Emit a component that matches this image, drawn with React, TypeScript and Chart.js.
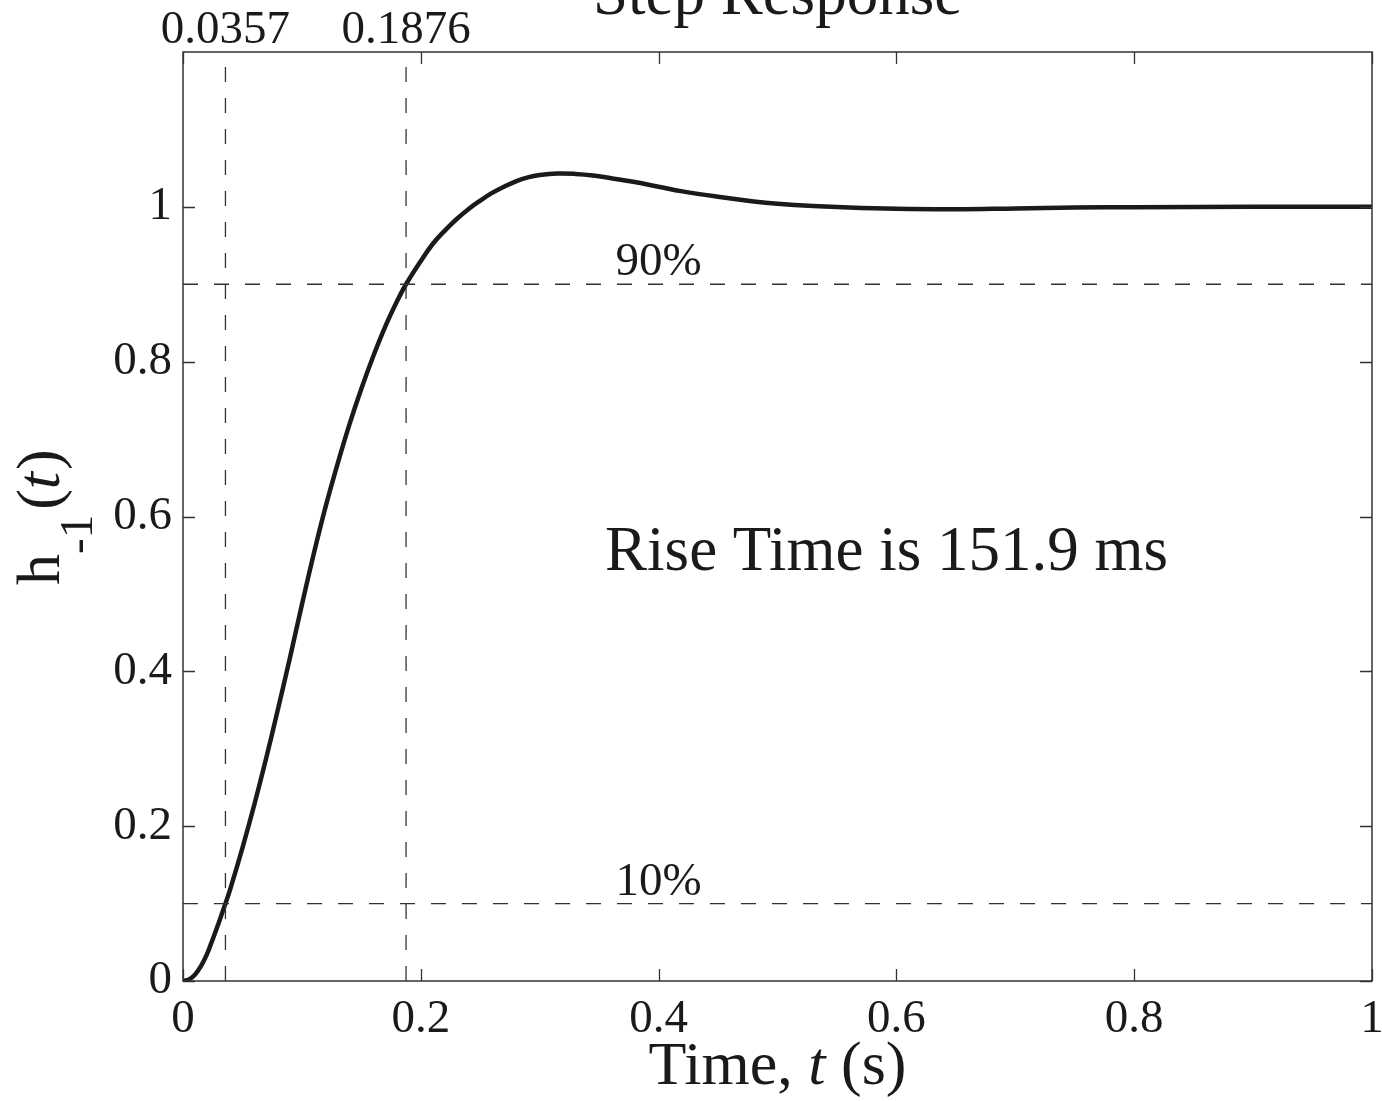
import React, { useEffect, useRef } from "react";
import { Chart, registerables } from "chart.js";

Chart.register(...registerables);

// ---- Data ----
const timeS = [
  0, 0.005, 0.01, 0.015, 0.02, 0.025, 0.03, 0.0357, 0.04, 0.05, 0.06, 0.07,
  0.08, 0.09, 0.1, 0.11, 0.12, 0.13, 0.14, 0.15, 0.16, 0.17, 0.18, 0.1876,
  0.2, 0.21, 0.22, 0.23, 0.24, 0.25, 0.26, 0.27, 0.28, 0.29, 0.3, 0.315,
  0.33, 0.345, 0.36, 0.38, 0.4, 0.42, 0.45, 0.48, 0.5, 0.53, 0.56, 0.6,
  0.65, 0.7, 0.75, 0.8, 0.9, 1.0,
];
const response = [
  0, 0.002, 0.008, 0.019, 0.034, 0.054, 0.075, 0.1, 0.12, 0.172, 0.228, 0.288,
  0.352, 0.418, 0.486, 0.552, 0.613, 0.668, 0.719, 0.765, 0.807, 0.845, 0.878,
  0.9, 0.93, 0.952, 0.969, 0.984, 0.997, 1.008, 1.018, 1.026, 1.033, 1.038,
  1.041, 1.043, 1.0425, 1.0405, 1.037, 1.032, 1.026, 1.02, 1.013, 1.007,
  1.004, 1.001, 0.999, 0.9975, 0.997, 0.998, 0.999, 0.9995, 1.0, 1.0,
];
const riseMarks = [0.0357, 0.1876];
const riseMarkLabels = ["0.0357", "0.1876"];
const levelValues = [0.1, 0.9];
const levelLabels = ["10%", "90%"];
const levelLabelTime = 0.4;
const xTicks = [0, 0.2, 0.4, 0.6, 0.8, 1];
const yTicks = [0, 0.2, 0.4, 0.6, 0.8, 1];
const xRange = [0, 1];
const yRange = [0, 1.2];
const titleText = "Step Response";
const annotationText = "Rise Time is 151.9 ms";
const annotationAt = { t: 0.355, v: 0.531 };

const FONT = "'Liberation Serif', 'Times New Roman', serif";
const INK = "#1a1a1a";
const LINE = "#333333";

const fmt = (v: number) => String(Number(v.toFixed(2)));

const decorPlugin = {
  id: "decor",
  afterDatasetsDraw(chart: any) {
    const { ctx, chartArea: a, scales } = chart;
    const x = scales.x;
    const y = scales.y;
    ctx.save();
    // box
    ctx.strokeStyle = LINE;
    ctx.lineWidth = 1.5;
    ctx.setLineDash([]);
    ctx.strokeRect(a.left, a.top, a.right - a.left, a.bottom - a.top);
    // inward ticks on all four sides
    const tl = 12;
    ctx.beginPath();
    for (const t of xTicks) {
      const px = Math.round(x.getPixelForValue(t)) + 0.5;
      ctx.moveTo(px, a.bottom);
      ctx.lineTo(px, a.bottom - tl);
      ctx.moveTo(px, a.top);
      ctx.lineTo(px, a.top + tl);
    }
    for (const v of yTicks) {
      const py = Math.round(y.getPixelForValue(v)) + 0.5;
      ctx.moveTo(a.left, py);
      ctx.lineTo(a.left + tl, py);
      ctx.moveTo(a.right, py);
      ctx.lineTo(a.right - tl, py);
    }
    ctx.lineWidth = 1.3;
    ctx.stroke();

    ctx.fillStyle = INK;
    ctx.textBaseline = "alphabetic";
    // Rise markers labels above the plot
    ctx.font = `47px ${FONT}`;
    ctx.textAlign = "center";
    riseMarks.forEach((t, i) => {
      ctx.fillText(riseMarkLabels[i], x.getPixelForValue(t), a.top - 9);
    });
    // level labels
    levelValues.forEach((v, i) => {
      ctx.fillText(levelLabels[i], x.getPixelForValue(levelLabelTime), y.getPixelForValue(v) - 9);
    });
    // annotation
    ctx.font = `63px ${FONT}`;
    ctx.textAlign = "left";
    ctx.fillText(annotationText, x.getPixelForValue(annotationAt.t), y.getPixelForValue(annotationAt.v));
    // title
    ctx.textAlign = "center";
    ctx.fillText(titleText, (a.left + a.right) / 2, 14);

    // x axis title: "Time, t (s)" with italic t
    const xt1 = "Time, ";
    const xt2 = "t";
    const xt3 = " (s)";
    const xs = 62;
    ctx.font = `${xs}px ${FONT}`;
    const w1 = ctx.measureText(xt1).width;
    const w3 = ctx.measureText(xt3).width;
    ctx.font = `italic ${xs}px ${FONT}`;
    const w2 = ctx.measureText(xt2).width;
    const total = w1 + w2 + w3;
    let sx = (a.left + a.right) / 2 - total / 2;
    const by = 1084;
    ctx.textAlign = "left";
    ctx.font = `${xs}px ${FONT}`;
    ctx.fillText(xt1, sx, by);
    sx += w1;
    ctx.font = `italic ${xs}px ${FONT}`;
    ctx.fillText(xt2, sx, by);
    sx += w2;
    ctx.font = `${xs}px ${FONT}`;
    ctx.fillText(xt3, sx, by);

    // y axis title: h_{-1}(t), rotated
    ctx.save();
    ctx.translate(59, 585);
    ctx.rotate(-Math.PI / 2);
    ctx.textAlign = "left";
    let lx = 0;
    ctx.font = `62px ${FONT}`;
    ctx.fillText("h", lx, 0);
    lx += ctx.measureText("h").width;
    ctx.font = `47px ${FONT}`;
    ctx.fillText("-1", lx, 33);
    lx += ctx.measureText("-1").width + 5;
    ctx.font = `62px ${FONT}`;
    ctx.fillText("(", lx, 0);
    lx += ctx.measureText("(").width;
    ctx.font = `italic 62px ${FONT}`;
    ctx.fillText("t", lx, 0);
    lx += ctx.measureText("t").width + 2;
    ctx.font = `62px ${FONT}`;
    ctx.fillText(")", lx, 0);
    ctx.restore();

    ctx.restore();
  },
};

export default function App() {
  const ref = useRef<HTMLCanvasElement | null>(null);
  useEffect(() => {
    if (!ref.current) return;
    const curve = timeS.map((t, i) => ({ x: t, y: response[i] }));
    const dashStyle = {
      borderColor: LINE,
      borderWidth: 1.3,
      borderDash: [15, 16],
      pointRadius: 0,
      fill: false,
      tension: 0,
    };
    const vLines = riseMarks.map((t) => ({
      ...dashStyle,
      data: [
        { x: t, y: yRange[0] },
        { x: t, y: yRange[1] },
      ],
    }));
    const hLines = levelValues.map((v) => ({
      ...dashStyle,
      data: [
        { x: xRange[0], y: v },
        { x: xRange[1], y: v },
      ],
    }));
    const chart = new Chart(ref.current, {
      type: "line",
      data: {
        datasets: [
          ...vLines,
          ...hLines,
          {
            data: curve,
            borderColor: INK,
            borderWidth: 4.5,
            pointRadius: 0,
            fill: false,
            tension: 0.4,
            borderJoinStyle: "round",
            borderCapStyle: "round",
          },
        ],
      },
      options: {
        responsive: false,
        animation: false,
        devicePixelRatio: 1,
        layout: { padding: { top: 52, right: 10, left: 0, bottom: 0 } },
        plugins: {
          legend: { display: false },
          tooltip: { enabled: false },
          title: { display: false },
        },
        scales: {
          x: {
            type: "linear",
            min: xRange[0],
            max: xRange[1],
            grid: { display: false, drawTicks: false },
            border: { display: false },
            afterBuildTicks: (s: any) => {
              s.ticks = xTicks.map((v) => ({ value: v }));
            },
            afterFit: (s: any) => {
              s.height = 120;
              s.paddingLeft = 0;
              s.paddingRight = 0;
            },
            ticks: {
              color: INK,
              font: { family: FONT, size: 47 },
              padding: 10,
              maxRotation: 0,
              autoSkip: false,
              callback: (v: any) => fmt(Number(v)),
            },
          },
          y: {
            type: "linear",
            min: yRange[0],
            max: yRange[1],
            grid: { display: false, drawTicks: false },
            border: { display: false },
            afterBuildTicks: (s: any) => {
              s.ticks = yTicks.map((v) => ({ value: v }));
            },
            afterFit: (s: any) => {
              s.width = 183;
              s.paddingTop = 0;
              s.paddingBottom = 0;
            },
            ticks: {
              color: INK,
              font: { family: FONT, size: 47 },
              padding: 11,
              autoSkip: false,
              callback: (v: any) => fmt(Number(v)),
            },
          },
        },
      },
      plugins: [decorPlugin],
    } as any);
    return () => chart.destroy();
  }, []);
  return (
    <div style={{ position: "absolute", left: 0, top: 0, width: 1382, height: 1101, background: "#fff" }}>
      <canvas ref={ref} width={1382} height={1101} style={{ display: "block", width: 1382, height: 1101 }} />
    </div>
  );
}
